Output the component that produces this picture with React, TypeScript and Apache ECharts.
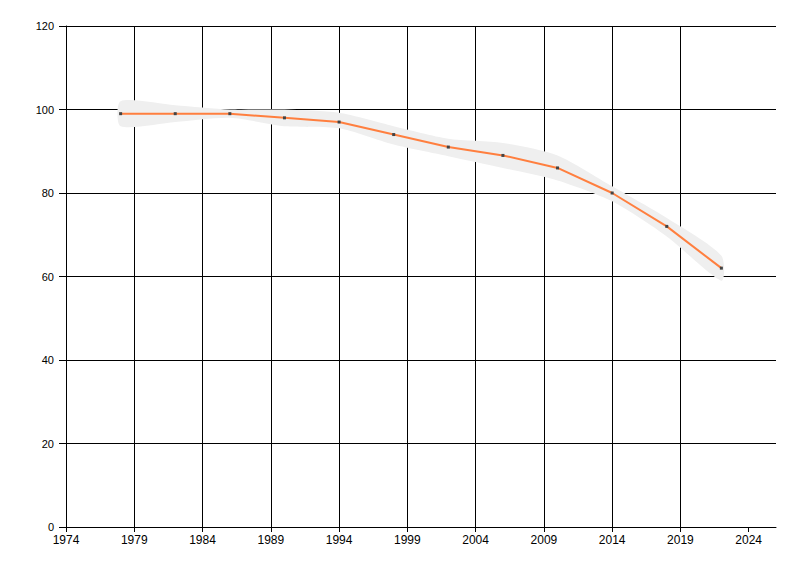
import React, { useEffect, useRef } from 'react';
import * as echarts from 'echarts';

const years = [1978, 1982, 1986, 1990, 1994, 1998, 2002, 2006, 2010, 2014, 2018, 2022];
const values = [99, 99, 99, 98, 97, 94, 91, 89, 86, 80, 72, 62];
const upper = [102, 101, 100, 100, 99.2, 96, 93, 92, 89, 81.6, 74, 65];
const lower = [96, 97, 98, 96, 95.5, 91.6, 88.8, 86, 83, 78, 69.6, 59];
const xTicks = [1974, 1979, 1984, 1989, 1994, 1999, 2004, 2009, 2014, 2019, 2024];
const yTicks = [0, 20, 40, 60, 80, 100, 120];

const BASE_YEAR = 1974;
const END_YEAR = 2026;

const App: React.FC = () => {
  const chartRef = useRef<HTMLDivElement>(null);

  useEffect(() => {
    if (!chartRef.current) return;
    const chart = echarts.init(chartRef.current, undefined, { renderer: 'svg' });

    const toX = (y: number) => y - BASE_YEAR;
    const font = { fontFamily: 'Liberation Sans', fontSize: 11, color: '#000' };

    // band drawn once as one polygon: upper edge, then lower edge backwards
    const bandData = years.map((y, i) => [toX(y), lower[i], upper[i]]);

    const option: echarts.EChartsOption = {
      animation: false,
      backgroundColor: '#fff',
      grid: { left: 66, right: 24, top: 26, bottom: 49 },
      xAxis: {
        type: 'value',
        min: 0,
        max: toX(END_YEAR),
        interval: 5,
        axisLine: { show: true, lineStyle: { color: '#000', width: 1 } },
        axisTick: {
          show: true,
          length: 5,
          lineStyle: { color: '#000' },
          customValues: xTicks.map(toX),
        },
        axisLabel: {
          ...font,
          fontSize: 12,
          margin: 7,
          customValues: xTicks.map(toX),
          formatter: (v: number) => String(v + BASE_YEAR),
        },
        splitLine: { show: true, showMaxLine: false, lineStyle: { color: '#000', width: 1 } },
      },
      yAxis: {
        type: 'value',
        min: yTicks[0],
        max: yTicks[yTicks.length - 1],
        interval: 20,
        axisLine: { show: true, lineStyle: { color: '#000', width: 1 } },
        axisTick: { show: true, length: 7, lineStyle: { color: '#000' } },
        axisLabel: { ...font, margin: 12 },
        splitLine: { show: true, lineStyle: { color: '#000', width: 1 } },
      },
      series: [
        {
          name: 'band',
          type: 'custom',
          silent: true,
          z: 1,
          data: bandData,
          renderItem: (params: any, api: any) => {
            if (params.dataIndex !== 0) return null;
            const top = bandData.map((d) => api.coord([d[0], d[2]]));
            const bottom = bandData.map((d) => api.coord([d[0], d[1]])).reverse();
            return {
              type: 'polygon',
              shape: { points: top.concat(bottom), smooth: 0.25 },
              style: { fill: '#efefef', stroke: 'none' },
            };
          },
        },
        {
          name: 'value',
          type: 'line',
          smooth: false,
          symbol: 'rect',
          symbolSize: 3,
          itemStyle: { color: '#444' },
          lineStyle: { color: '#ff7f3f', width: 2 },
          data: years.map((y, i) => [toX(y), values[i]]),
          z: 3,
        },
      ],
    };

    chart.setOption(option);
    return () => {
      chart.dispose();
    };
  }, []);

  return (
    <div
      ref={chartRef}
      style={{ position: 'fixed', left: 0, top: 0, width: 800, height: 576 }}
    />
  );
};

export default App;
